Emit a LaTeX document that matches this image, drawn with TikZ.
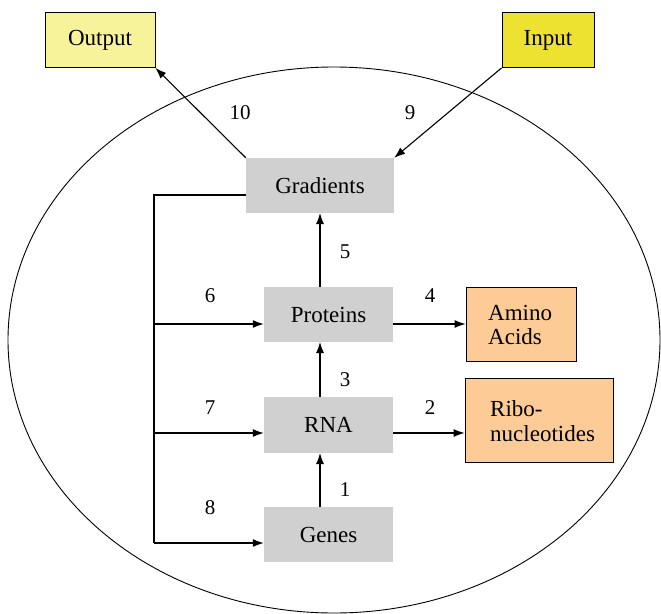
\documentclass[tikz,border=0pt]{standalone}
\usepackage{fontspec}
\setmainfont{Liberation Serif}
\usetikzlibrary{arrows.meta}
\definecolor{outyel}{HTML}{F7F39A}
\definecolor{inyel}{HTML}{EDE230}
\definecolor{boxgray}{HTML}{D0D0D0}
\definecolor{boxorange}{HTML}{FCCB96}
\begin{document}
\begin{tikzpicture}[x=1pt,y=-1pt,
  every node/.style={font=\fontsize{23}{25}\selectfont},
  graybox/.style={fill=boxgray,draw=none,minimum width=129pt,minimum height=55pt,inner sep=0pt},
  orangebox/.style={fill=boxorange,draw=black,line width=0.8pt,inner sep=0pt},
  yelbox/.style={draw=black,line width=0.8pt,inner sep=0pt,minimum height=55pt},
  arr/.style={-{Latex[length=11pt,width=8pt]},line width=1.1pt},
  lbl/.style={inner sep=0pt,font=\fontsize{21}{24}\selectfont}]
\useasboundingbox (0,0) rectangle (661,613);
\draw[line width=0.9pt] (334,340) ellipse [x radius=326, y radius=273];
% boxes
\node[yelbox,fill=outyel,minimum width=110pt] (out) at (100,40) {Output};
\node[yelbox,fill=inyel,minimum width=92pt] (in) at (548,40) {Input};
\node[graybox,minimum width=148pt,minimum height=55pt] (grad) at (320,185.5) {Gradients};
\node[graybox] (prot) at (328.5,314.5) {Proteins};
\node[graybox,minimum height=56pt] (rna) at (328.5,425) {RNA};
\node[graybox] (genes) at (328.5,534.5) {Genes};
\node[orangebox,minimum width=110pt,minimum height=74pt] (amino) at (521,324) {};
\node[lbl,font=\fontsize{23}{24}\selectfont,anchor=west,align=left] (aminot) at (488,325) {Amino\\Acids};
\node[orangebox,minimum width=148pt,minimum height=84pt] (ribo) at (539,420) {};
\node[lbl,font=\fontsize{23}{25}\selectfont,anchor=west,align=left] (ribot) at (490,421) {Ribo-\\nucleotides};
% coordinates for feedback line
\coordinate (ltop) at (154,195);
\coordinate (lp) at (154,324);
\coordinate (lr) at (154,433);
\coordinate (lg) at (154,543);
% connectors
\draw[line width=1.1pt] (grad.west |- ltop) -- (ltop) -- (lg);
\draw[arr] (lp) -- (lp -| prot.west);
\draw[arr] (lr) -- (lr -| rna.west);
\draw[arr] (lg) -- (lg -| genes.west);
\draw[arr] (prot.east |- lp) -- (amino.west |- lp);
\draw[arr] (rna.east |- lr) -- (ribo.west |- lr);
\draw[arr] (320,507) -- (320,453);
\draw[arr] (320,397) -- (320,342);
\draw[arr] (320,287) -- (320,213);
\draw[arr] (grad.north west) -- (out.south east);
\draw[arr] (in.south west) -- (grad.north east);
% labels
\node[lbl] (l10) at (240,113) {10};
\node[lbl] (l9) at (410,113) {9};
\node[lbl] (l5) at (345,252) {5};
\node[lbl] (l6) at (210,296) {6};
\node[lbl] (l4) at (430,296) {4};
\node[lbl] (l3) at (345,380) {3};
\node[lbl] (l7) at (210,408) {7};
\node[lbl] (l2) at (430,408) {2};
\node[lbl] (l1) at (345,490) {1};
\node[lbl] (l8) at (210,508) {8};
\end{tikzpicture}
\end{document}
